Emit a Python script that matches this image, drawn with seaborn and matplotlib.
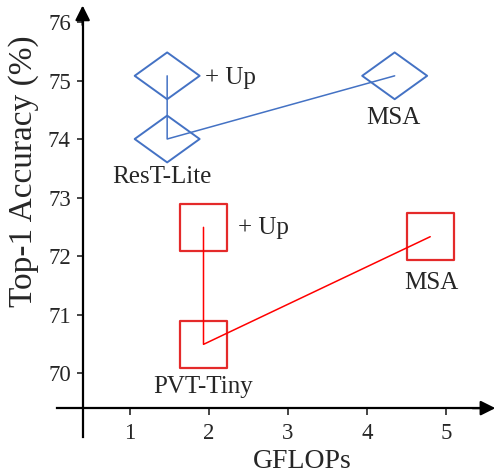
import numpy as np
import pandas as pd
import matplotlib
matplotlib.use("Agg")
import matplotlib.pyplot as plt
import seaborn as sns
from matplotlib.path import Path

# ========== data ==========
rest_names = ["+ Up", "ResT-Lite", "MSA"]
rest_gflops = [1.47, 1.47, 4.35]
rest_acc = [75.08, 74.00, 75.08]

pvt_names = ["+ Up", "PVT-Tiny", "MSA"]
pvt_gflops = [1.93, 1.93, 4.80]
pvt_acc = [72.49, 70.49, 72.33]

x_ticks = [1, 2, 3, 4, 5]
y_ticks = [70, 71, 72, 73, 74, 75, 76]

blue = "#4472C4"
red_line = "#FF0000"
red_edge = "#E42A2A"

rest = pd.DataFrame({"gflops": rest_gflops, "acc": rest_acc, "name": rest_names})
pvt = pd.DataFrame({"gflops": pvt_gflops, "acc": pvt_acc, "name": pvt_names})

sns.set_style("ticks")
plt.rcParams["font.family"] = ["Liberation Serif", "DejaVu Serif"]

fig = plt.figure(figsize=(5.01, 4.74), dpi=100)
ax = fig.add_axes([0, 0, 1, 1])
ax.patch.set_alpha(0)
ax.set_xlim(-0.646, 5.696)
ax.set_ylim(68.274, 76.376)

# wide diamond marker
diamond = Path([(-1, 0), (0, 0.72), (1, 0), (0, -0.72), (-1, 0)],
               [Path.MOVETO, Path.LINETO, Path.LINETO, Path.LINETO, Path.CLOSEPOLY])

# ========== markers ==========
sns.scatterplot(data=rest, x="gflops", y="acc", marker=diamond, s=46.8 ** 2,
                facecolor="none", edgecolor=blue, linewidth=1.4, ax=ax, zorder=3)
sns.scatterplot(data=pvt, x="gflops", y="acc", marker="s", s=33.8 ** 2,
                facecolor="none", edgecolor=red_edge, linewidth=1.6, ax=ax, zorder=3)

# ========== lines (+Up -> base -> MSA) ==========
sns.lineplot(data=rest, x="gflops", y="acc", sort=False, estimator=None,
             color=blue, linewidth=1.1, ax=ax, zorder=4)
sns.lineplot(data=pvt, x="gflops", y="acc", sort=False, estimator=None,
             color=red_line, linewidth=1.1, ax=ax, zorder=4)

# ========== labels of the points ==========
fs = 18
ax.text(1.95, 75.04, "+ Up", fontsize=fs, ha="left", va="center")
ax.text(1.40, 73.35, "ResT-Lite", fontsize=fs, ha="center", va="center")
ax.text(4.33, 74.36, "MSA", fontsize=fs, ha="center", va="center")
ax.text(2.37, 72.48, "+ Up", fontsize=fs, ha="left", va="center")
ax.text(4.81, 71.54, "MSA", fontsize=fs, ha="center", va="center")
ax.text(1.92, 69.76, "PVT-Tiny", fontsize=fs, ha="center", va="center")

# ========== axes with arrows ==========
x0, y0 = 0.4, 69.4
for s in ["top", "right"]:
    ax.spines[s].set_visible(False)
ax.spines["left"].set_position(("data", x0))
ax.spines["bottom"].set_position(("data", y0))
ax.spines["left"].set_bounds(68.9, 76.1)
ax.spines["bottom"].set_bounds(0.07, 5.5)
for s in ["left", "bottom"]:
    ax.spines[s].set_linewidth(1.6)
    ax.spines[s].set_color("black")

ax.annotate("", xy=(5.66, y0), xytext=(5.3, y0),
            arrowprops=dict(arrowstyle="-|>", color="black", lw=1.6, mutation_scale=22))
ax.annotate("", xy=(x0, 76.33), xytext=(x0, 75.9),
            arrowprops=dict(arrowstyle="-|>", color="black", lw=1.6, mutation_scale=22))

ax.set_xticks(x_ticks)
ax.set_yticks(y_ticks)
ax.tick_params(axis="x", direction="out", length=5, width=1.2, pad=6, labelsize=16.5)
ax.tick_params(axis="y", direction="out", length=4.5, width=1.2, pad=4, labelsize=16.5)

ax.set_xlabel("GFLOPs", fontsize=20)
ax.set_ylabel("Top-1 Accuracy (%)", fontsize=24)
ax.xaxis.set_label_coords(0.603, 0.052)
ax.yaxis.set_label_coords(0.077, 0.639)
ax.xaxis.label.set_va("top")

fig.savefig("out.png", dpi=100)
